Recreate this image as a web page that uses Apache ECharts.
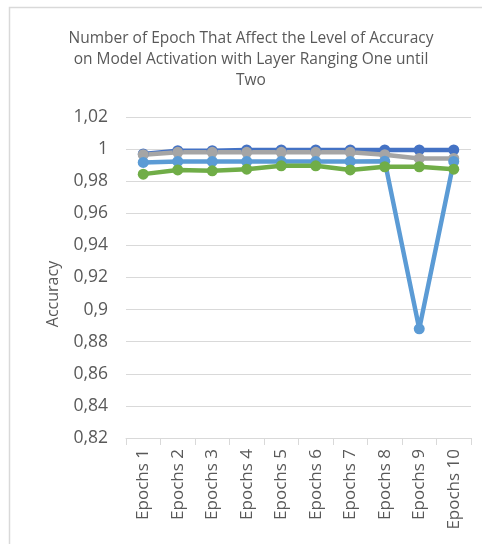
<!DOCTYPE html>
<html>
<head>
<meta charset="utf-8">
<script src="https://cdn.jsdelivr.net/npm/echarts@6/dist/echarts.min.js"></script>
<style>
html, body { margin: 0; padding: 0; background: #fff; }
#chart { width: 482px; height: 544px; }
</style>
</head>
<body>
<div id="chart"></div>
<script>
var categories = ['Epochs 1', 'Epochs 2', 'Epochs 3', 'Epochs 4', 'Epochs 5', 'Epochs 6', 'Epochs 7', 'Epochs 8', 'Epochs 9', 'Epochs 10']
var darkBlue = [0.997, 0.999, 0.999, 0.9995, 0.9995, 0.9995, 0.9995, 0.9995, 0.9995, 0.9995]
var gray = [0.9965, 0.998, 0.998, 0.998, 0.998, 0.998, 0.998, 0.9965, 0.9942, 0.9942]
var lightBlue = [0.9917, 0.9923, 0.9923, 0.9923, 0.9923, 0.9923, 0.9923, 0.9925, 0.888, 0.9923]
var green = [0.9844, 0.987, 0.9865, 0.9875, 0.9896, 0.9896, 0.987, 0.989, 0.989, 0.9875]

var font = '"Open Sans", sans-serif'
var textColor = '#595959'

function line(data, color) {
	return {
		type: 'line',
		data: data,
		symbol: 'circle',
		symbolSize: 11,
		lineStyle: { width: 4.5, color: color },
		itemStyle: { color: color },
		emphasis: { disabled: true }
	}
}

var chart = echarts.init(document.getElementById('chart'))
var option = {
	animation: false,
	title: {
		text: 'Number of Epoch That Affect the Level of Accuracy\non Model Activation with Layer Ranging One until\nTwo',
		left: 246,
		top: 23,
		textAlign: 'center',
		textStyle: { fontFamily: font, fontSize: 15.5, fontWeight: 'normal', color: textColor, lineHeight: 21 }
	},
	graphic: [{
		type: 'rect',
		shape: { x: 9.5, y: 7.5, width: 500, height: 560 },
		style: { fill: 'none', stroke: '#d9d9d9', lineWidth: 1.5 },
		silent: true
	}, {
		type: 'text',
		x: 53,
		y: 294,
		rotation: Math.PI / 2,
		style: { text: 'Accuracy', fontFamily: font, fontSize: 16, fill: textColor, align: 'center', verticalAlign: 'middle' },
		silent: true
	}],
	grid: { left: 126, right: 11, top: 117, bottom: 106 },
	xAxis: {
		type: 'category',
		data: categories,
		boundaryGap: true,
		axisLine: { lineStyle: { color: '#d9d9d9', width: 1 } },
		axisTick: { show: true, length: 7, lineStyle: { color: '#d9d9d9' } },
		axisLabel: { rotate: 90, interval: 0, margin: 11, fontFamily: font, fontSize: 17, color: textColor }
	},
	yAxis: {
		type: 'value',
		min: 0.82,
		max: 1.02,
		interval: 0.02,
		axisLine: { show: false },
		axisTick: { show: false },
		splitLine: { lineStyle: { color: '#d9d9d9', width: 1 } },
		axisLabel: {
			margin: 18,
			fontFamily: font,
			fontSize: 17.5,
			color: textColor,
			formatter: function (v) {
				return String(parseFloat(v.toFixed(2))).replace('.', ',')
			}
		}
	},
	series: [
		line(darkBlue, '#4472C4'),
		line(gray, '#A5A5A5'),
		line(lightBlue, '#5B9BD5'),
		line(green, '#70AD47')
	]
}
chart.setOption(option)
</script>
</body>
</html>
